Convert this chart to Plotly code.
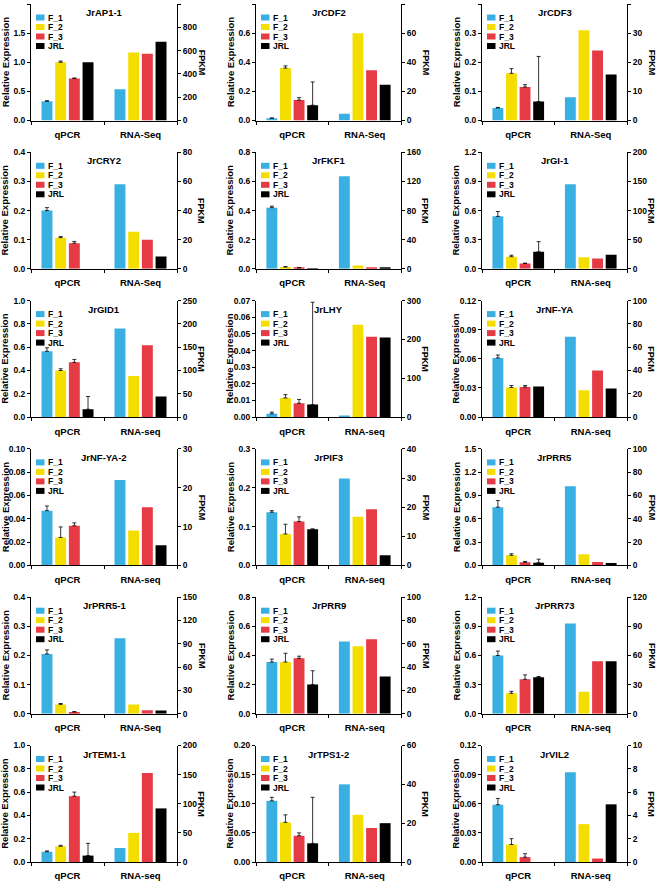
import plotly.graph_objects as go

genes = ["JrAP1-1", "JrCDF2", "JrCDF3", "JrCRY2", "JrFKF1", "JrGI-1",
         "JrGID1", "JrLHY", "JrNF-YA", "JrNF-YA-2", "JrPIF3", "JrPRR5",
         "JrPRR5-1", "JrPRR9", "JrPRR73", "JrTEM1-1", "JrTPS1-2", "JrVIL2"]
rna_labels = ["RNA-Seq", "RNA-Seq", "RNA-Seq", "RNA-Seq", "RNA-Seq", "RNA-seq",
              "RNA-seq", "RNA-seq", "RNA-seq", "RNA-seq", "RNA-seq", "RNA-seq",
              "RNA-Seq", "RNA-seq", "RNA-seq", "RNA-seq", "RNA-seq", "RNA-seq"]
series = ["F_1", "F_2", "F_3", "JRL"]

left_max = [2.0, 0.8, 0.4, 0.4, 0.8, 1.2, 1.0, 0.07, 0.12, 0.10, 0.3, 1.5, 0.4, 0.8, 1.2, 1.0, 0.20, 0.12]
left_step = [0.5, 0.2, 0.1, 0.1, 0.2, 0.3, 0.2, 0.01, 0.03, 0.02, 0.1, 0.3, 0.1, 0.2, 0.3, 0.2, 0.05, 0.03]
right_max = [1000, 80, 40, 80, 160, 200, 250, 300, 100, 30, 40, 100, 150, 100, 120, 200, 60, 10]
right_step = [200, 20, 10, 20, 40, 50, 50, 100, 20, 10, 10, 20, 30, 20, 30, 50, 20, 2]

qpcr_F1 = [0.33, 0.015, 0.043, 0.20, 0.42, 0.54, 0.565, 0.002, 0.061, 0.047, 0.137, 0.75, 0.205, 0.355, 0.60, 0.088, 0.105, 0.059]
qpcr_F2 = [1.00, 0.36, 0.162, 0.107, 0.012, 0.125, 0.40, 0.0115, 0.0305, 0.024, 0.081, 0.13, 0.032, 0.355, 0.21, 0.135, 0.068, 0.018]
qpcr_F3 = [0.72, 0.14, 0.115, 0.088, 0.006, 0.055, 0.47, 0.0083, 0.031, 0.034, 0.113, 0.04, 0.006, 0.38, 0.355, 0.565, 0.045, 0.005]
qpcr_JRL = [1.00, 0.105, 0.065, None, 0.002, 0.175, 0.067, 0.0075, 0.0315, None, 0.093, 0.035, None, 0.20, 0.375, 0.055, 0.032, None]

err_F1 = [0.01, 0.003, 0.002, 0.01, 0.01, 0.05, 0.03, 0.001, 0.003, 0.004, 0.004, 0.085, 0.014, 0.02, 0.045, 0.007, 0.006, 0.0065]
err_F2 = [0.02, 0.015, 0.016, 0.004, 0.003, 0.015, 0.015, 0.002, 0.002, 0.009, 0.025, 0.02, 0.003, 0.06, 0.02, 0.008, 0.013, 0.006]
err_F3 = [0.01, 0.017, 0.008, 0.006, 0.002, 0.003, 0.025, 0.0023, 0.0015, 0.0025, 0.012, 0.01, 0.001, 0.015, 0.045, 0.035, 0.005, 0.0035]
err_JRL = [0.0, 0.16, 0.155, None, 0.0, 0.105, 0.11, 0.0615, 0.0, None, 0.001, 0.045, None, 0.095, 0.008, 0.105, 0.079, None]

rna_F1 = [268, 4.7, 8, 58, 127, 145, 190, 3, 69, 22, 29.8, 68, 97, 62, 93, 24, 40, 7.7]
rna_F2 = [583, 60, 31, 25.5, 4.5, 20, 88, 238, 23, 9, 16.7, 9.5, 12, 58, 22.5, 50, 24.3, 3.25]
rna_F3 = [573, 34.5, 24, 20, 2, 17.5, 154, 207, 40, 15, 19.3, 3, 4.5, 64, 54, 153, 17.5, 0.3]
rna_JRL = [676, 24.5, 15.8, 8.5, 1, 24, 44, 205, 24.5, 5.2, 3.5, 2, 4, 32, 54, 92, 20, 4.95]

colors = ["#3ab0e2", "#f4de00", "#e63a44", "#000000"]

qpcr = [qpcr_F1, qpcr_F2, qpcr_F3, qpcr_JRL]
errs = [err_F1, err_F2, err_F3, err_JRL]
rna = [rna_F1, rna_F2, rna_F3, rna_JRL]

W, H = 656, 881
col_px = [(31, 177), (256, 401), (482, 627)]
row_top0, row_pitch, row_h = 4, 148.3, 116.5

FONT = "Liberation Sans, Arial, sans-serif"
fig = go.Figure()
layout = {}
annotations = []
shapes = []

slot = 0.1875
bar_w = 0.15

for i in range(18):
    r, c = divmod(i, 3)
    xi = i + 1
    yl = 2 * i + 1
    yr = 2 * i + 2
    xname = "x" if xi == 1 else f"x{xi}"
    ylname = "y" if yl == 1 else f"y{yl}"
    yrname = f"y{yr}"
    x0p, x1p = col_px[c]
    top = row_top0 + row_pitch * r
    bot = top + row_h
    pw = x1p - x0p

    cats = ["qPCR", rna_labels[i]]
    dec = len(str(left_step[i]).split(".")[1]) if "." in str(left_step[i]) else 0

    layout["xaxis" if xi == 1 else f"xaxis{xi}"] = dict(
        domain=[x0p / W, x1p / W], anchor=ylname, type="category",
        categoryorder="array", categoryarray=cats, range=[-0.5, 1.5],
        showline=True, linecolor="black", linewidth=1, ticks="outside",
        ticklen=3, tickcolor="black", tickson="boundaries", showgrid=False,
        zeroline=False, automargin=False, ticklabelstandoff=5,
        tickfont=dict(size=9.5, color="black"))
    layout["yaxis" if yl == 1 else f"yaxis{yl}"] = dict(
        domain=[1 - bot / H, 1 - top / H], anchor=xname,
        range=[0, left_max[i]], tick0=0, dtick=left_step[i],
        tickformat=f".{dec}f", showline=True, linecolor="black", linewidth=1,
        ticks="outside", ticklen=3, tickcolor="black", showgrid=False,
        zeroline=False, automargin=False, tickfont=dict(size=8.5, color="black"))
    layout[f"yaxis{yr}"] = dict(
        overlaying=ylname, side="right", anchor=xname,
        range=[0, right_max[i]], tick0=0, dtick=right_step[i],
        showline=True, linecolor="black", linewidth=1,
        ticks="outside", ticklen=3, tickcolor="black", showgrid=False,
        zeroline=False, automargin=False, tickfont=dict(size=8.5, color="black"))

    for k in range(4):
        off = -0.375 + (k + 0.5) * slot - bar_w / 2
        v = qpcr[k][i]
        e = errs[k][i]
        fig.add_trace(go.Bar(
            x=["qPCR"], y=[v], xaxis=xname, yaxis=ylname, name=series[k],
            marker=dict(color=colors[k], line=dict(width=0)),
            width=[bar_w], offset=[off], showlegend=False,
            error_y=dict(type="data", symmetric=False,
                         array=[e if e is not None else 0], arrayminus=[0],
                         visible=bool(e), color="black", thickness=0.8, width=2)))
        fig.add_trace(go.Bar(
            x=[rna_labels[i]], y=[rna[k][i]], xaxis=xname, yaxis=yrname,
            name=series[k], marker=dict(color=colors[k], line=dict(width=0)),
            width=[bar_w], offset=[off], showlegend=False))

    xd = f"{xname} domain"
    yd = f"{ylname} domain"
    annotations.append(dict(text=genes[i], xref=xd, yref=yd, x=0.5,
                            y=1 - 8.5 / row_h, xanchor="center", yanchor="middle",
                            showarrow=False,
                            font=dict(size=9.5, color="black", family=FONT, weight="bold")))
    for k in range(4):
        d = 13.5 + 9.5 * k
        shapes.append(dict(type="rect", xref=xd, yref=yd,
                           x0=5 / pw, x1=13.5 / pw,
                           y0=1 - (d + 3) / row_h, y1=1 - (d - 3) / row_h,
                           fillcolor=colors[k], line=dict(width=0)))
        annotations.append(dict(text=series[k], xref=xd, yref=yd,
                                x=15 / pw, y=1 - d / row_h, xanchor="left",
                                yanchor="middle", showarrow=False,
                                font=dict(size=8.5, color="black", family=FONT)))
    ymid = 1 - (top + bot) / 2 / H
    annotations.append(dict(text="Relative Expression", xref="paper", yref="paper",
                            x=(x0p - 26) / W, y=ymid, xanchor="center",
                            yanchor="middle", textangle=-90, showarrow=False,
                            font=dict(size=9.5, color="black", family=FONT, weight="bold")))
    annotations.append(dict(text="FPKM", xref="paper", yref="paper",
                            x=(x1p + 24.5) / W, y=ymid, xanchor="center",
                            yanchor="middle", textangle=90, showarrow=False,
                            font=dict(size=9, color="black", family=FONT, weight="bold")))

fig.update_layout(**layout)
fig.update_layout(
    width=W, height=H, margin=dict(l=0, r=0, t=0, b=0),
    paper_bgcolor="white", plot_bgcolor="rgba(0,0,0,0)",
    barmode="group", showlegend=False,
    font=dict(family=FONT, color="black", weight="bold"),
    annotations=annotations, shapes=shapes,
)
fig.write_html("out.html", config={"displayModeBar": False},
               post_script="document.body.style.margin='0';document.body.style.overflow='hidden';")
